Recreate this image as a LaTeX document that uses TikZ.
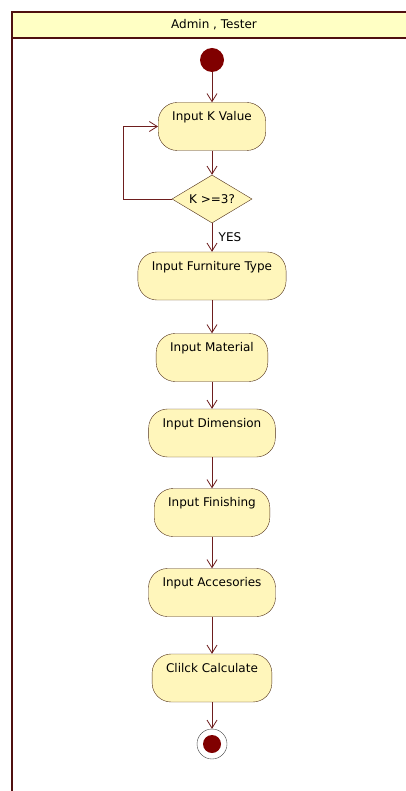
\documentclass[tikz,border=0pt]{standalone}
\usepackage{fontspec}
\setmainfont{DejaVu Sans}
\usepackage{tikz}
\usetikzlibrary{arrows.meta,shapes.geometric,positioning}
\definecolor{lanered}{RGB}{80,16,16}
\definecolor{lanefill}{RGB}{255,255,196}
\definecolor{actfill}{RGB}{255,246,187}
\definecolor{actline}{RGB}{80,48,24}
\definecolor{flowred}{RGB}{110,30,30}
\definecolor{dotred}{RGB}{128,0,0}
\tikzset{%
	activity/.style = {draw=actline, fill=actfill, rectangle, rounded corners=19pt, inner xsep=14pt, inner ysep=5pt, text height=13pt, text depth=25pt, font=\fontsize{12}{14}\selectfont},
	decision/.style = {draw=actline, fill=actfill, diamond, aspect=1.67, inner sep=0pt, minimum width=80pt, minimum height=48pt, font=\fontsize{12}{14}\selectfont},
	startnode/.style= {circle, fill=dotred, minimum size=24pt, inner sep=0pt},
	endnode/.style  = {circle, draw=black!75, fill=white, minimum size=30pt, inner sep=0pt, path picture={\fill[dotred] (path picture bounding box.center) circle (9pt);}},
	arrow/.style    = {draw=flowred, line width=0.8pt, -{Straight Barb[length=8pt,width=10pt]}},
}

\begin{document}
\begin{tikzpicture}[x=1pt,y=-1pt]
		\useasboundingbox (0,0) rectangle (406,791);
		\clip (0,0) rectangle (406,791);
		
		% swimlane
		\draw[lanered,line width=2.5pt,fill=lanefill] (12,12) rectangle (420,38);
		\draw[lanered,line width=2.8pt] (12,38) -- (12,800);
		\node[font=\fontsize{12}{14}\selectfont] (lane) at (214,25) {Admin , Tester};
		
		\node[startnode] (start) at (212,60) {};
		\node[activity] (kval) at (212,126.5) {Input K Value};
		\node[decision] (dia) at (212,199) {K >=3?};
		\node[activity] (furn) at (212,276) {Input Furniture Type};
		\node[activity] (mat) at (212,357.5) {Input Material};
		\node[activity] (dim) at (212,433) {Input Dimension};
		\node[activity] (fin) at (212,512.5) {Input Finishing};
		\node[activity] (acc) at (212,592.5) {Input Accesories};
		\node[activity] (calc) at (212,678) {Clilck Calculate};
		\node[endnode] (end) at (212,744) {};
		\coordinate (loop) at (123,199);
		
		\draw[arrow] (start) -- (kval);
		\draw[arrow] (kval) -- (dia);
		\draw[arrow] (dia.west) -- (loop) |- (kval.west);
		\draw[arrow] (dia) -- (furn) node[midway,right=3pt,font=\fontsize{12}{14}\selectfont] (yes) {YES};
		\draw[arrow] (furn) -- (mat);
		\draw[arrow] (mat) -- (dim);
		\draw[arrow] (dim) -- (fin);
		\draw[arrow] (fin) -- (acc);
		\draw[arrow] (acc) -- (calc);
		\draw[arrow] (calc) -- (end);
	\end{tikzpicture}
\end{document}
